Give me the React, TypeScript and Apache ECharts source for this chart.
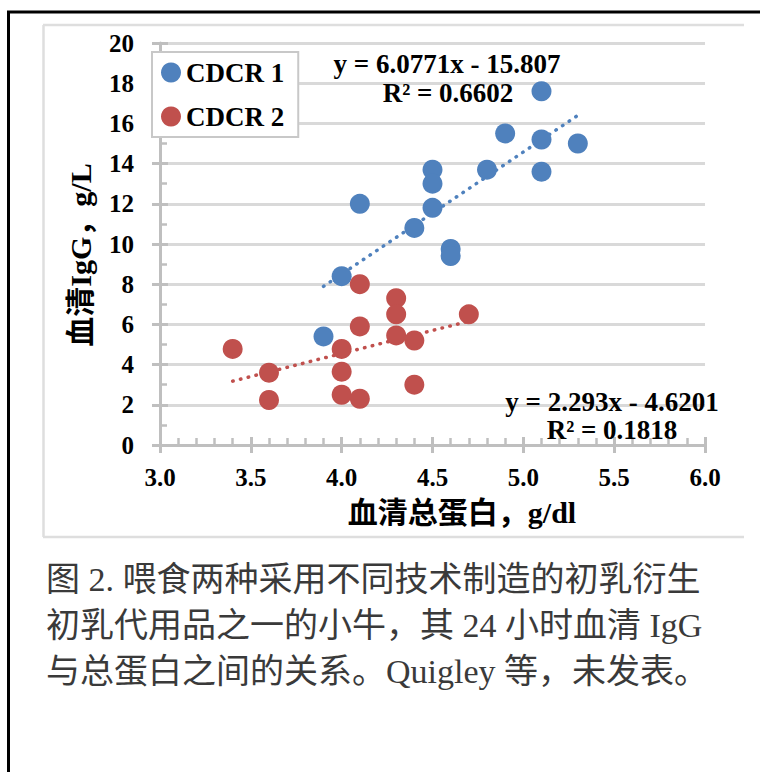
import React, { useEffect, useRef } from "react";
import * as echarts from "echarts";

// CDCR 1 (blue)
const cdcr1X = [3.9, 4.0, 4.1, 4.4, 4.5, 4.5, 4.5, 4.6, 4.6, 4.8, 4.9, 5.1, 5.1, 5.1, 5.3];
const cdcr1Y = [5.4, 8.4, 12.0, 10.8, 13.7, 13.0, 11.8, 9.75, 9.4, 13.7, 15.5, 17.6, 15.2, 13.6, 15.0];
// CDCR 2 (red)
const cdcr2X = [3.4, 3.6, 3.6, 4.0, 4.0, 4.0, 4.1, 4.1, 4.1, 4.3, 4.3, 4.3, 4.4, 4.4, 4.7];
const cdcr2Y = [4.78, 3.6, 2.24, 4.78, 3.65, 2.5, 8.0, 5.9, 2.3, 7.3, 6.5, 5.45, 5.2, 3.0, 6.5];

// trend line coefficients (from the chart's equations)
const fit1 = { slope: 6.0771, intercept: -15.807, r2: "0.6602" };
const fit2 = { slope: 2.293, intercept: -4.6201, r2: "0.1818" };

const seriesNames = ["CDCR 1", "CDCR 2"];
const xTitle = "血清总蛋白，g/dl";
const yTitle = "血清IgG，g/L";
const captionLines = [
  "图 2. 喂食两种采用不同技术制造的初乳衍生",
  "初乳代用品之一的小牛，其 24 小时血清 IgG",
  "与总蛋白之间的关系。Quigley 等，未发表。",
];

const BLUE = "#4f81bd";
const RED = "#c0504d";
const AXIS = "#bfbfbf";
const GRID = "#d9d9d9";
const SERIF = "'Liberation Serif', 'Noto Sans CJK SC', serif";

function pairs(xs: number[], ys: number[]) {
  return xs.map((x, i) => [x, ys[i]]);
}
function fitLine(xs: number[], f: { slope: number; intercept: number }) {
  const lo = Math.min(...xs);
  const hi = Math.max(...xs);
  return [
    [lo, f.slope * lo + f.intercept],
    [hi, f.slope * hi + f.intercept],
  ];
}
function eqText(f: { slope: number; intercept: number }) {
  return `y = ${f.slope}x - ${Math.abs(f.intercept)}`;
}

function txt(text: string, x: number, y: number, size: number, opts: any = {}) {
  return {
    type: "text",
    x,
    y,
    rotation: opts.rotation || 0,
    z: 10,
    style: {
      text,
      fontSize: size,
      fontWeight: opts.weight || "bold",
      fontFamily: opts.family || SERIF,
      fill: opts.color || "#000",
      textAlign: opts.align || "center",
      align: opts.align || "center",
      textVerticalAlign: "middle",
      verticalAlign: "middle",
    },
  };
}

export default function App() {
  const ref = useRef<HTMLDivElement>(null);
  useEffect(() => {
    document.body.style.margin = "0";
    if (!ref.current) return;
    const chart = echarts.init(ref.current, undefined, { renderer: "svg" });
    const tickLabel = {
      fontSize: 25,
      fontWeight: "bold",
      fontFamily: "'Liberation Serif', serif",
      color: "#000",
    };
    const dotted = (color: string) => ({
      color,
      width: 3.5,
      type: [0.5, 7.5],
      cap: "round",
    });
    chart.setOption({
      animation: false,
      backgroundColor: "#fff",
      grid: { left: 160, right: 55, top: 43, bottom: 327 },
      legend: {
        data: seriesNames,
        orient: "vertical",
        left: 152,
        top: 52,
        icon: "circle",
        itemWidth: 20,
        itemHeight: 20,
        itemGap: 17,
        itemTextGap: 5,
        padding: [7, 14, 7, 9],
        borderColor: "#c8c8c8",
        borderWidth: 2,
        backgroundColor: "#fff",
        textStyle: {
          fontSize: 27,
          fontWeight: "bold",
          fontFamily: "'Liberation Serif', serif",
          color: "#000",
        },
      },
      xAxis: [
        {
          type: "value",
          min: 3,
          max: 6,
          interval: 0.5,
          position: "bottom",
          axisLine: { show: true, onZero: false, lineStyle: { color: AXIS, width: 3 } },
          axisTick: { show: true, inside: true, length: 8, lineStyle: { color: AXIS, width: 3 } },
          minorTick: { show: true, splitNumber: 5, length: 7, lineStyle: { color: AXIS, width: 2.5 } },
          axisLabel: { ...tickLabel, margin: 20, formatter: (v: number) => v.toFixed(1) },
          splitLine: { show: false },
        },
        {
          type: "value",
          min: 3,
          max: 6,
          interval: 0.5,
          position: "bottom",
          axisLine: { show: false, onZero: false },
          axisTick: { show: true, inside: false, length: 8, lineStyle: { color: AXIS, width: 3 } },
          axisLabel: { show: false },
          splitLine: { show: false },
        },
      ],
      yAxis: [
        {
          type: "value",
          min: 0,
          max: 20,
          interval: 2,
          position: "left",
          axisLine: { show: true, onZero: false, lineStyle: { color: AXIS, width: 3 } },
          axisTick: { show: true, inside: true, length: 8, lineStyle: { color: AXIS, width: 3 } },
          minorTick: { show: true, splitNumber: 2, length: 7, lineStyle: { color: AXIS, width: 2.5 } },
          axisLabel: { ...tickLabel, margin: 26 },
          splitLine: { show: true, lineStyle: { color: GRID, width: 3 } },
        },
        {
          type: "value",
          min: 0,
          max: 20,
          interval: 2,
          position: "left",
          axisLine: { show: false, onZero: false },
          axisTick: { show: true, inside: false, length: 8, lineStyle: { color: AXIS, width: 3 } },
          axisLabel: { show: false },
          splitLine: { show: false },
        },
      ],
      series: [
        {
          name: "fit1",
          type: "line",
          data: fitLine(cdcr1X, fit1),
          symbol: "none",
          lineStyle: dotted(BLUE),
          silent: true,
          z: 1,
        },
        {
          name: "fit2",
          type: "line",
          data: fitLine(cdcr2X, fit2),
          symbol: "none",
          lineStyle: dotted(RED),
          silent: true,
          z: 1,
        },
        {
          name: seriesNames[0],
          type: "scatter",
          data: pairs(cdcr1X, cdcr1Y),
          symbol: "circle",
          symbolSize: 20,
          itemStyle: { color: BLUE, opacity: 1 },
          z: 2,
        },
        {
          name: seriesNames[1],
          type: "scatter",
          data: pairs(cdcr2X, cdcr2Y),
          symbol: "circle",
          symbolSize: 20,
          itemStyle: { color: RED, opacity: 1 },
          z: 2,
        },
      ],
      graphic: [
        {
          type: "rect",
          shape: { x: 8.5, y: 12, width: 800, height: 800 },
          style: { fill: "none", stroke: "#000", lineWidth: 3 },
          silent: true,
        },
        { type: "line", shape: { x1: 43, y1: 25, x2: 744, y2: 25 }, style: { stroke: "#dedede", lineWidth: 2.5 }, silent: true },
        { type: "line", shape: { x1: 43.5, y1: 25, x2: 43.5, y2: 537 }, style: { stroke: "#dedede", lineWidth: 2.5 }, silent: true },
        { type: "line", shape: { x1: 43, y1: 537, x2: 744, y2: 537 }, style: { stroke: "#dedede", lineWidth: 2.5 }, silent: true },
        txt(eqText(fit1), 447, 64, 27),
        txt(`R² = ${fit1.r2}`, 448, 93, 27),
        txt(eqText(fit2), 612, 402, 27),
        txt(`R² = ${fit2.r2}`, 612, 430, 27),
        txt(xTitle, 462, 512, 30),
        txt(yTitle, 80, 255, 30, { rotation: Math.PI / 2 }),
        ...captionLines.map((line, i) =>
          txt(line, 46, 579 + i * 46, 34, { weight: "normal", color: "#3a3a3a", align: "left" })
        ),
      ],
    });
    return () => chart.dispose();
  }, []);
  return <div ref={ref} style={{ width: 760, height: 772 }} />;
}
